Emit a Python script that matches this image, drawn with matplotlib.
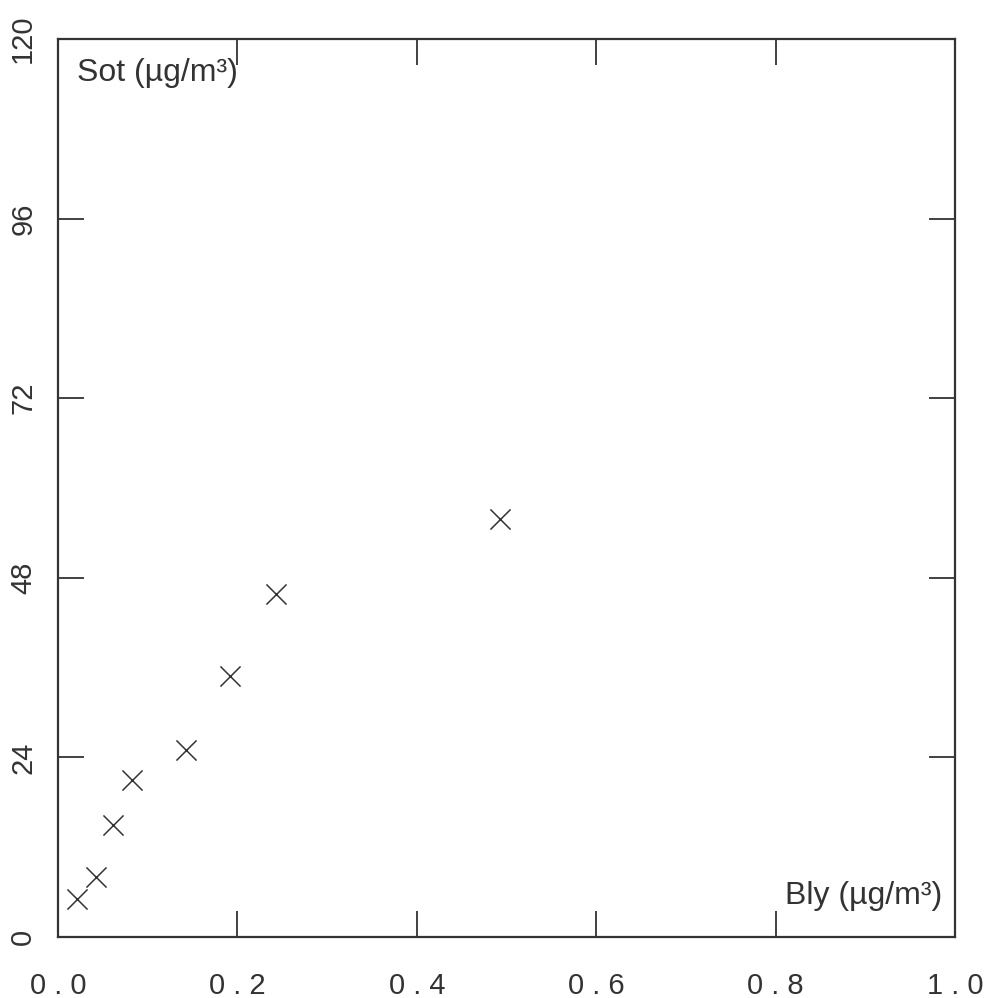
import matplotlib.pyplot as plt

# Bly vs Sot
bly = [0.021, 0.042, 0.061, 0.082, 0.143, 0.192, 0.243, 0.493]
sot = [5.1, 8.0, 15.0, 21.0, 25.0, 34.9, 45.8, 55.9]

x_ticks = [0.0, 0.2, 0.4, 0.6, 0.8, 1.0]
x_labels = ['0 . 0', '0 . 2', '0 . 4', '0 . 6', '0 . 8', '1 . 0']
y_ticks = [0, 24, 48, 72, 96, 120]
y_labels = ['0', '24', '48', '72', '96', '120']

ink = '#333333'
tick_font = 'Liberation Sans'

fig = plt.figure(figsize=(9.86, 9.98), dpi=100)
ax = fig.add_axes([0.0588, 0.0611, 0.9097, 0.8998])

ax.scatter(bly, sot, marker='x', s=210, color=ink, linewidths=1.1, zorder=3)

ax.set_xlim(0, 1)
ax.set_ylim(0, 120)
ax.set_xticks(x_ticks)
ax.set_xticklabels(x_labels, family=tick_font, fontsize=21, color=ink)
ax.set_yticks(y_ticks)
ax.set_yticklabels(y_labels, family=tick_font, fontsize=21, color=ink,
                   rotation=90, va='center')

ax.tick_params(direction='in', length=19, width=1.3, color=ink,
               top=True, right=True)
ax.tick_params(axis='x', pad=25)
ax.tick_params(axis='y', pad=15)

for sp in ax.spines.values():
    sp.set_color(ink)
    sp.set_linewidth(1.6)

ax.text(0.021, 0.979, 'Sot (µg/m³)', transform=ax.transAxes, ha='left', va='top',
        family='Liberation Sans', fontsize=23, color=ink)
ax.text(0.986, 0.046, 'Bly (µg/m³)', transform=ax.transAxes, ha='right', va='center',
        family='Liberation Sans', fontsize=23, color=ink)

fig.savefig('out.png', dpi=100)
